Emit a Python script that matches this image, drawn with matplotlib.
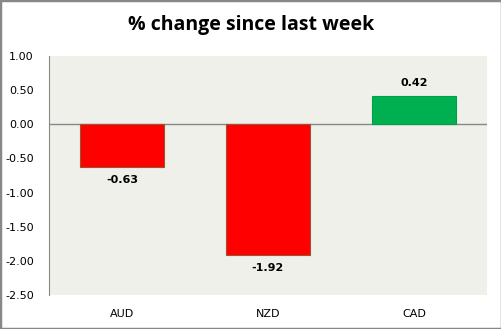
import matplotlib.pyplot as plt
from matplotlib.patches import Rectangle

# data
currencies = ["AUD", "NZD", "CAD"]
changes = [-0.63, -1.92, 0.42]
bar_colors = ["#FF0000", "#FF0000", "#00B050"]
edge_colors = ["#A0522D", "#A0522D", "#00A048"]
yticks = [1.0, 0.5, 0.0, -0.5, -1.0, -1.5, -2.0, -2.5]

fig = plt.figure(figsize=(5.02, 3.29), dpi=100)
fig.patch.set_facecolor("white")
ax = fig.add_axes([49 / 502, 1 - 295 / 329, (487 - 49) / 502, (295 - 56) / 329])
ax.set_facecolor("#EFF0E9")

x = range(len(currencies))
ax.bar(x, changes, width=0.57, color=bar_colors, edgecolor=edge_colors, linewidth=0.8, zorder=3)
ax.axhline(0, color="#888888", lw=1, zorder=2)

for i, v in enumerate(changes):
    if v < 0:
        ax.text(i, v - 0.11, "%.2f" % v, ha="center", va="top", fontsize=8, fontweight="bold")
    else:
        ax.text(i, v + 0.11, "%.2f" % v, ha="center", va="bottom", fontsize=8, fontweight="bold")

ax.set_xlim(-0.5, 2.5)
ax.set_ylim(-2.5, 1.0)
ax.set_yticks(yticks)
ax.set_yticklabels(["%.2f" % t for t in yticks], fontsize=8)
ax.set_xticks(list(x))
ax.set_xticklabels(currencies, fontsize=8)
ax.tick_params(length=0)
ax.tick_params(axis="x", pad=10)
ax.tick_params(axis="y", pad=11)
for s in ["top", "right", "bottom"]:
    ax.spines[s].set_visible(False)
ax.spines["left"].set_color("#888888")

fig.text(0.5, 1 - 25 / 329, "% change since last week", ha="center", va="center",
         fontsize=14, fontweight="bold", family="Open Sans")

fig.add_artist(Rectangle((0, 0), 1, 1, transform=fig.transFigure, fill=False,
                         edgecolor="#888888", lw=2.5))

fig.savefig("out.png", dpi=100)
